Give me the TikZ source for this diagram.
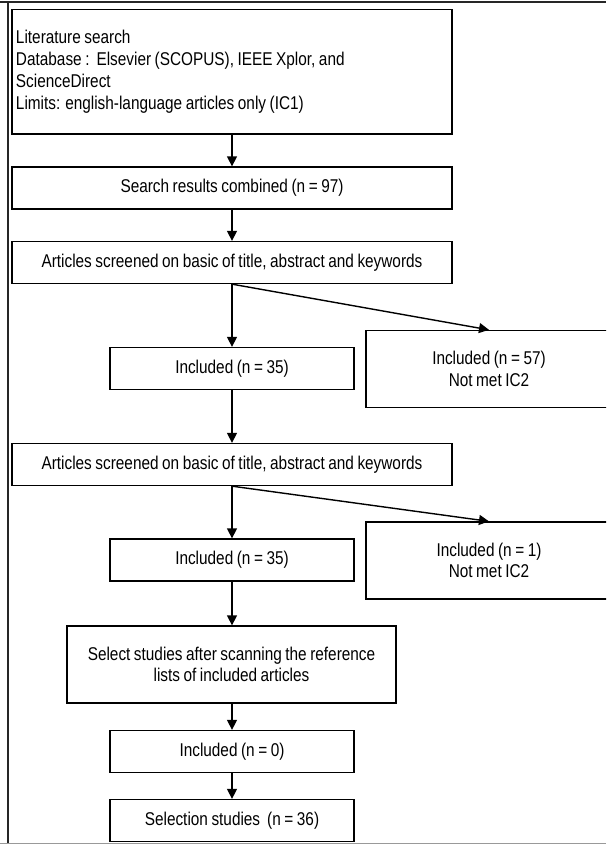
\documentclass[tikz,border=0pt]{standalone}
\usepackage{fontspec}
\setmainfont{Liberation Sans}[FakeStretch=0.83,WordSpace=0.83]
\usetikzlibrary{arrows.meta}
\begin{document}
\begin{tikzpicture}[x=1pt,y=-1pt,
  font=\fontsize{18.5}{21.7}\selectfont,
  box/.style={draw=black,line width=1.3pt,rectangle,inner sep=0pt,align=center},
  wide/.style={box,minimum width=440pt,minimum height=42pt},
  mid/.style={box,minimum width=244pt,minimum height=42pt},
  side/.style={box,minimum width=246pt,minimum height=77pt},
  arr/.style={line width=1.4pt,-{Triangle[length=10pt,width=10pt]}},
  frame/.style={line width=2pt,draw=black!85}]
\useasboundingbox (0,0) rectangle (606,844);
\clip (0,0) rectangle (606,844);
% outer frame
\coordinate (tl) at (0,2);
\coordinate (tr) at (606,2);
\coordinate (lt) at (7.5,2);
\coordinate (lb) at (7.5,844);
\coordinate (bl) at (0,843.5);
\coordinate (br) at (606,843.5);
\draw[frame] (tl) -- (tr);
\draw[frame] (lt) -- (lb);
\draw[line width=1.2pt,draw=black!40] (bl) -- (br);
% boxes
\node[box,minimum width=440pt,minimum height=124.5pt,text width=432pt,align=left] (b1) at (232,71.75)
  {\spaceskip=0pt\xspaceskip=0pt\relax
   Literature search\\
   Database :\ \ Elsevier (SCOPUS), IEEE Xplor, and\\
   ScienceDirect\\
   Limits: english-language articles only (IC1)};
\node[wide] (b2) at (232,188) {Search results combined (n = 97)};
\node[wide] (b3) at (232,262.5) {Articles screened on basic of title, abstract and keywords};
\node[mid] (b4) at (232,368.5) {Included (n = 35)};
\node[side] (b5) at (489,369) {Included (n = 57)\\Not met IC2};
\node[wide] (b6) at (232,464.5) {Articles screened on basic of title, abstract and keywords};
\node[mid] (b7) at (232,560) {Included (n = 35)};
\node[side] (b8) at (489,560.5) {Included (n = 1)\\Not met IC2};
\node[box,minimum width=329pt,minimum height=77pt] (b9) at (231.5,664.5)
  {Select studies after scanning the reference\\lists of included articles};
\node[mid] (b10) at (232,751.5) {Included (n = 0)};
\node[mid] (b11) at (232,820.5) {Selection studies\ \ (n = 36)};
% arrows
\draw[arr] (b1) -- (b2);
\draw[arr] (b2) -- (b3);
\draw[arr] (b3.south) -- (b4.north);
\draw[arr] (b3.south) -- (b5.north);
\draw[arr] (b4) -- (b6);
\draw[arr] (b6.south) -- (b7.north);
\draw[arr] (b6.south) -- (b8.north);
\draw[arr] (b7.south) -- (b7.south |- b9.north);
\draw[arr] (b9.south) -- (b9.south -| b10.north) -- (b10.north);
\draw[arr] (b10) -- (b11);
\end{tikzpicture}
\end{document}
